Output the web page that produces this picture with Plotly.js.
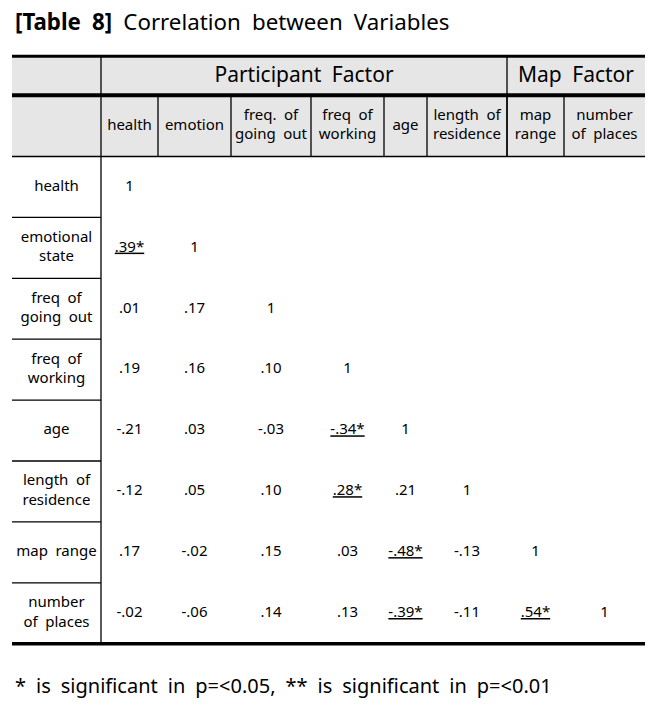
<!DOCTYPE html>
<html>
<head>
<meta charset="utf-8">
<script src="https://cdn.plot.ly/plotly-3.0.1.min.js"></script>
<style>html,body{margin:0;padding:0;background:#fff;}#chart{width:657px;height:708px;}</style>
</head>
<body>
<div id="chart"></div>
<script>
// ---------------- DATA ----------------
const tableTitleBold = "[Table 8]";
const tableTitle = "Correlation between Variables";
const groupLabels = ["Participant Factor", "Map Factor"];
const groupSpans = [6, 2];
const columnLabels = ["health", "emotion", "freq. of<br>going out", "freq of<br>working", "age",
                      "length of<br>residence", "map<br>range", "number<br>of places"];
const rowLabels = ["health", "emotional<br>state", "freq of<br>going out", "freq of<br>working", "age",
                   "length of<br>residence", "map range", "number<br>of places"];
// lower-triangular correlation matrix (row i, columns 0..i)
const correlations = [
  [1],
  [0.39, 1],
  [0.01, 0.17, 1],
  [0.19, 0.16, 0.10, 1],
  [-0.21, 0.03, -0.03, -0.34, 1],
  [-0.12, 0.05, 0.10, 0.28, 0.21, 1],
  [0.17, -0.02, 0.15, 0.03, -0.48, -0.13, 1],
  [-0.02, -0.06, 0.14, 0.13, -0.39, -0.11, 0.54, 1]
];
// significance stars (same shape as correlations)
const stars = [
  [""],
  ["*", ""],
  ["", "", ""],
  ["", "", "", ""],
  ["", "", "", "*", ""],
  ["", "", "", "*", "", ""],
  ["", "", "", "", "*", "", ""],
  ["", "", "", "", "*", "", "*", ""]
];
const footnote = "* is significant in p=<0.05, ** is significant in p=<0.01";

// ---------------- GEOMETRY / STYLE ----------------
const W = 657, H = 708;
const FONT = "Noto Sans, Open Sans, sans-serif";
const tableLeft = 12, tableRight = 645;
const labelColWidth = 89;
const colWidths = [57, 73, 80, 73, 43, 80, 57, 81];
const headTop = 56.3, head1Bottom = 95.3, head2Bottom = 156.5;
const rowHeight = 60.9;
const labelSize = 15;
const valueSize = 15;
const grayFill = "#e6e6e6";
const ink = "#000000";

const wide = s => s.replace(/ /g, "\u2002");   // wide word spacing as in the original typeface

const colEdges = [tableLeft, tableLeft + labelColWidth];
colWidths.forEach(w => colEdges.push(colEdges[colEdges.length - 1] + w));
const colCenter = j => (colEdges[j + 1] + colEdges[j + 2]) / 2;
const rowCenter = i => head2Bottom + rowHeight * (i + 0.5);
const bodyBottom = head2Bottom + rowHeight * rowLabels.length;

function fmt(v) {
  if (v === 1) return "1";
  const s = Math.abs(v).toFixed(2).replace(/^0/, "");
  return (v < 0 ? "-" : "") + s;
}

// ---------------- TRACES ----------------
const plainX = [], plainY = [], plainT = [];
const sigX = [], sigY = [], sigT = [];
correlations.forEach((row, i) => {
  row.forEach((v, j) => {
    const t = fmt(v) + stars[i][j];
    if (stars[i][j]) { sigX.push(colCenter(j)); sigY.push(rowCenter(i)); sigT.push(t); }
    else { plainX.push(colCenter(j)); plainY.push(rowCenter(i)); plainT.push(t); }
  });
});

const groupX = [];
let startCol = 0;
groupSpans.forEach(span => {
  groupX.push((colEdges[startCol + 1] + colEdges[startCol + span + 1]) / 2);
  startCol += span;
});

const traces = [
  { type: "scatter", mode: "text", x: groupX, y: groupLabels.map(() => (headTop + head1Bottom) / 2 + 1),
    text: groupLabels.map(wide), textposition: "middle center",
    textfont: { family: FONT, size: 21, color: ink }, hoverinfo: "skip" },
  { type: "scatter", mode: "text", x: columnLabels.map((_, j) => colCenter(j)),
    y: columnLabels.map(() => (head1Bottom + head2Bottom) / 2),
    text: columnLabels.map(wide), textposition: "middle center",
    textfont: { family: FONT, size: labelSize, color: ink }, hoverinfo: "skip" },
  { type: "scatter", mode: "text", x: rowLabels.map(() => tableLeft + labelColWidth / 2),
    y: rowLabels.map((_, i) => rowCenter(i)),
    text: rowLabels.map(wide), textposition: "middle center",
    textfont: { family: FONT, size: labelSize, color: ink }, hoverinfo: "skip" },
  { type: "scatter", mode: "text", x: plainX, y: plainY, text: plainT, textposition: "middle center",
    textfont: { family: FONT, size: valueSize, color: ink }, hoverinfo: "skip" },
  { type: "scatter", mode: "text", x: sigX, y: sigY, text: sigT, textposition: "middle center",
    textfont: { family: FONT, size: valueSize, color: ink, lineposition: "under" }, hoverinfo: "skip" }
];

// ---------------- SHAPES ----------------
const shapes = [];
const line = (x0, y0, x1, y1, w) => shapes.push({ type: "line", xref: "x", yref: "y", x0, y0, x1, y1,
  line: { color: ink, width: w }, layer: "above" });
shapes.push({ type: "rect", xref: "x", yref: "y", x0: tableLeft, x1: tableRight, y0: headTop, y1: head2Bottom,
  fillcolor: grayFill, line: { width: 0 }, layer: "below" });
line(tableLeft, headTop, tableRight, headTop, 3);
line(tableLeft, head1Bottom, tableRight, head1Bottom, 4);
line(tableLeft, head2Bottom, tableRight, head2Bottom, 1.3);
line(tableLeft, bodyBottom, tableRight, bodyBottom, 3.5);
line(colEdges[1], headTop, colEdges[1], bodyBottom, 1.3);
line(colEdges[1 + groupSpans[0]], headTop, colEdges[1 + groupSpans[0]], head2Bottom, 1.3);
for (let k = 2; k < colEdges.length - 1; k++) line(colEdges[k], head1Bottom, colEdges[k], head2Bottom, 1.3);
for (let i = 1; i < rowLabels.length; i++) line(tableLeft, head2Bottom + rowHeight * i, colEdges[1], head2Bottom + rowHeight * i, 1.3);

const layout = {
  width: W, height: H,
  margin: { l: 0, r: 0, t: 0, b: 0, pad: 0 },
  paper_bgcolor: "#ffffff", plot_bgcolor: "#ffffff",
  showlegend: false,
  xaxis: { range: [0, W], visible: false, fixedrange: true },
  yaxis: { range: [H, 0], visible: false, fixedrange: true },
  shapes: shapes,
  annotations: [
    { xref: "x", yref: "y", x: 13, y: 21, xanchor: "left", yanchor: "middle", showarrow: false,
      text: "<b>" + wide(tableTitleBold) + "</b>\u2002" + wide(tableTitle), font: { family: FONT, size: 22.3, color: ink } },
    { xref: "x", yref: "y", x: 13, y: 685, xanchor: "left", yanchor: "middle", showarrow: false,
      text: wide(footnote), font: { family: FONT, size: 20, color: ink } }
  ]
};

Plotly.newPlot("chart", traces, layout, { staticPlot: true, displayModeBar: false });
</script>
</body>
</html>
